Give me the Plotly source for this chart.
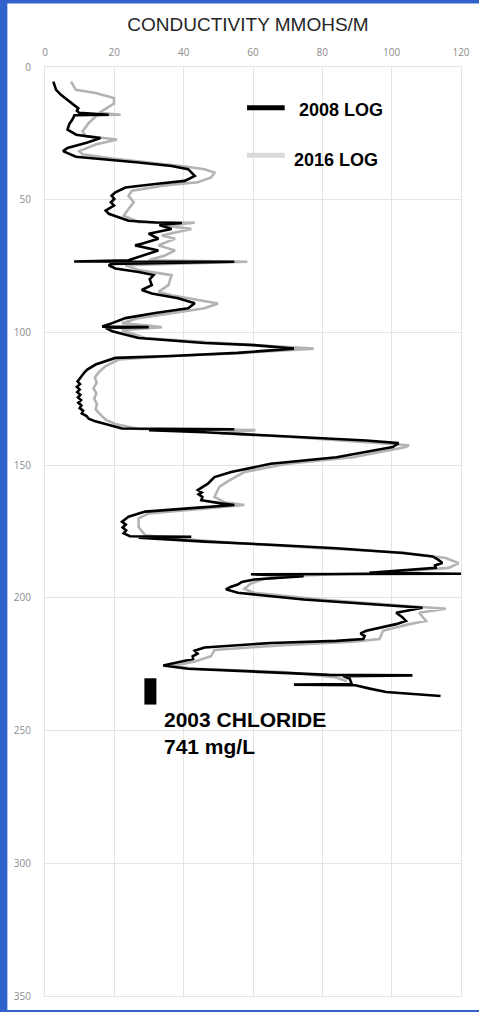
import plotly.graph_objects as go

# ---- 2008 conductivity log (depth, conductivity mmohs/m) ----
DEPTH_2008 = [5.5, 8.6, 10.5, 13.6, 14.8, 15.6, 16.5, 17.3, 18.0, 18.2, 19.8, 21.5, 23.6, 25.5, 26.8,
              28.5, 30.5, 31.7, 33.8, 34.8, 36.0, 37.3, 38.5, 41.0, 42.9, 44.1, 45.4, 47.2, 48.5,
              49.7, 51.0, 52.2, 53.2, 54.1, 55.3, 57.9, 58.6, 58.8, 59.5, 61.0, 62.8, 64.7, 66.6,
              67.2, 69.1, 70.3, 71.5, 72.8, 73.3, 73.4, 74.2, 74.7, 75.9, 77.2, 78.4, 80.0, 82.2,
              84.0, 85.3, 87.1, 89.0, 90.9, 92.7, 94.6, 96.5, 97.8, 98.0, 98.3, 99.6, 102.1, 104.0,
              104.8, 106.1, 107.7, 108.9, 109.6, 112.1, 113.0, 114.0, 115.0, 116.5, 117.5, 118.5,
              119.5, 120.5, 121.5, 122.5, 123.5, 124.5, 125.5, 126.5, 127.5, 128.5, 129.5, 130.5,
              131.5, 132.5, 133.5, 134.5, 136.2, 136.5, 136.8, 137.6, 138.9, 140.7, 141.7, 143.2,
              147.0, 149.5, 152.6, 154.5, 155.8, 157.0, 158.2, 159.4, 160.3, 161.0, 162.0, 163.2,
              164.4, 165.0, 166.3, 167.5, 169.4, 170.5, 171.3, 172.4, 173.5, 174.6, 175.7, 176.8,
              177.0, 177.3, 178.8, 180.0, 181.3, 183.1, 184.4, 185.6, 186.9, 187.8, 188.7, 190.6,
              190.9, 191.1, 191.8, 193.1, 194.0, 195.0, 195.9, 196.8, 198.1, 200.6, 202.4, 203.7,
              205.6, 207.2, 208.7, 209.9, 212.4, 213.4, 214.4, 215.5, 216.2, 217.0, 218.7, 219.9,
              221.0, 222.0, 223.0, 224.3, 225.5, 226.7, 228.0, 229.0, 229.2, 229.5, 230.5, 232.5,
              232.7, 232.9, 234.2, 235.5, 237.0]
COND_2008 = [2.4, 3.2, 4.6, 7.5, 8.9, 9.6, 9.2, 9.9, 18.4, 8.5, 7.9, 7.0, 6.5, 9.0, 16.0,
             12.0, 6.5, 5.2, 8.9, 17.5, 27.0, 36.5, 41.3, 43.2, 40.3, 31.8, 23.2, 20.3, 19.2,
             20.0, 19.0, 19.9, 18.6, 17.5, 18.4, 24.1, 32.0, 39.5, 33.0, 36.5, 29.9, 32.7, 27.9,
             26.0, 32.7, 29.9, 27.0, 24.1, 8.4, 54.6, 19.0, 18.4, 20.3, 27.0, 31.3, 30.2, 30.8,
             27.9, 30.8, 38.4, 43.2, 41.3, 31.8, 23.2, 19.4, 16.5, 29.9, 17.5, 19.4, 27.0, 46.0,
             60.3, 71.8, 55.6, 36.5, 20.3, 14.6, 13.5, 12.2, 11.4, 10.6, 10.0, 9.4,
             10.1, 9.2, 10.0, 9.3, 10.2, 9.5, 10.4, 9.6, 10.5, 10.0, 11.0, 10.6,
             12.0, 12.6, 14.5, 17.5, 22.2, 54.6, 30.0, 46.0, 65.1, 92.7, 102.0, 100.3,
             84.1, 65.1, 53.7, 48.9, 47.9, 47.0, 45.5, 44.1, 45.2, 44.3, 45.4, 45.1,
             50.8, 54.6, 41.3, 28.9, 24.1, 22.9, 22.2, 23.3, 22.4, 23.4, 22.7, 24.5,
             42.2, 27.0, 46.0, 65.1, 84.1, 103.2, 111.8, 113.4, 114.6, 112.5, 112.7, 93.6,
             120.0, 59.4, 74.6, 60.3, 56.8, 55.6, 53.5, 52.2, 55.6, 74.6, 93.7, 108.9,
             101.3, 103.0, 104.1, 101.3, 92.7, 91.0, 92.2, 91.8, 84.1, 65.1, 46.0, 43.2,
             44.0, 42.6, 42.7, 38.4, 34.1, 41.3, 65.1, 82.0, 106.0, 86.0, 87.9, 88.5,
             71.8, 89.5, 93.7, 98.4, 114.1]

# ---- 2016 conductivity log ----
DEPTH_2016 = [5.5, 8.6, 9.8, 11.7, 13.8, 15.4, 17.3, 18.0, 18.2, 21.0, 24.3, 26.0, 27.3, 29.2,
              31.7, 32.9, 34.5, 36.0, 37.3, 38.5, 39.8, 41.6, 43.4, 44.6, 46.6, 48.5, 51.0, 53.5,
              56.0, 58.5, 58.7, 59.8, 61.0, 63.5, 64.7, 67.2, 69.1, 71.0, 72.8, 73.4, 74.7, 76.5,
              78.4, 82.2, 84.7, 86.0, 87.9, 89.1, 90.9, 92.7, 94.6, 96.5, 98.0, 99.2, 102.1, 104.0,
              106.1, 107.7, 108.9, 110.2, 112.7, 115.0, 117.0, 119.0, 121.0, 123.0, 125.0, 127.0,
              129.0, 131.0, 133.0, 134.5, 136.4, 136.8, 138.0, 139.3, 142.5, 143.2, 147.0, 149.5,
              152.6, 156.1, 158.2, 160.0, 162.0, 164.0, 165.0, 166.7, 168.2, 170.0, 173.3, 176.4,
              177.5, 179.4, 181.3, 182.9, 185.0, 186.9, 188.7, 190.4, 191.6, 192.9, 194.6, 196.6,
              198.1, 200.6, 202.4, 204.1, 205.6, 208.7, 209.9, 212.4, 215.5, 216.5, 217.7, 219.6,
              222.0, 224.0, 225.8, 226.7, 228.0, 230.0, 231.4]
COND_2016 = [7.5, 8.9, 14.6, 19.9, 19.9, 17.9, 15.6, 21.8, 15.0, 12.7, 10.8, 11.8, 20.8, 14.6,
             9.9, 10.8, 19.4, 29.9, 39.4, 46.0, 48.9, 47.9, 44.1, 34.6, 25.1, 24.1, 25.6, 24.1,
             22.7, 27.0, 43.2, 34.6, 42.2, 33.7, 37.5, 32.7, 37.5, 34.6, 29.9, 58.4, 23.2, 27.0,
             36.5, 35.6, 32.7, 36.5, 44.1, 49.9, 46.0, 36.5, 27.0, 22.2, 33.7, 22.2, 28.9, 50.8,
             77.5, 57.5, 36.5, 21.3, 17.5, 15.5, 14.4, 14.9, 14.0, 14.8, 14.2, 15.0,
             14.6, 16.0, 17.6, 20.3, 27.0, 60.7, 50.8, 69.9, 105.0, 104.1, 88.9, 69.9,
             57.5, 52.7, 50.3, 49.6, 48.9, 51.8, 57.5, 43.2, 29.9, 27.0, 27.0, 28.9,
             36.5, 55.6, 79.4, 103.2, 115.6, 119.3, 116.5, 98.4, 74.6, 63.2, 59.4, 57.5,
             60.3, 79.4, 98.4, 115.6, 107.9, 109.9, 105.1, 97.5, 96.5, 88.9, 69.9, 48.9,
             47.9, 43.2, 36.5, 43.2, 69.9, 84.1, 87.0]

# ---- 2003 chloride sample interval ----
CHLORIDE_COND = [30.4, 30.4]
CHLORIDE_DEPTH = [230.3, 240.2]
CHLORIDE_LABEL = "2003 CHLORIDE<br>741 mg/L"

X_TICKS = [0, 20, 40, 60, 80, 100, 120]
Y_TICKS = [0, 50, 100, 150, 200, 250, 300, 350]

W, H = 479, 1012
ML, MR, MT, MB = 45, 14, 67, 9
PW, PH = W - ML - MR, H - MT - MB


def px_x(px):
    """pixel column -> paper x"""
    return (px - ML) / PW


def px_y(py):
    """pixel row -> paper y"""
    return (H - MB - py) / PH


fig = go.Figure()

fig.add_trace(go.Scatter(x=COND_2016, y=DEPTH_2016, mode="lines", name="2016 LOG",
                         line=dict(color="#b3b3b3", width=2.6), showlegend=False))
fig.add_trace(go.Scatter(x=COND_2008, y=DEPTH_2008, mode="lines", name="2008 LOG",
                         line=dict(color="#000000", width=2.6), showlegend=False))
fig.add_trace(go.Scatter(x=CHLORIDE_COND, y=CHLORIDE_DEPTH, mode="lines", name="2003 CHLORIDE",
                         line=dict(color="#000000", width=12), showlegend=False))

fig.add_annotation(x=CHLORIDE_COND[0] + 3.4, y=sum(CHLORIDE_DEPTH) / 2 + 15.5,
                   xref="x", yref="y", text="<b>" + CHLORIDE_LABEL + "</b>",
                   showarrow=False, xanchor="left", yanchor="middle", align="left",
                   font=dict(family="Liberation Sans, Arial, sans-serif", size=21, color="#000000"))

# legend: key lines and labels
shapes = [
    # white chart area inside the blue frame
    dict(type="rect", xref="paper", yref="paper", x0=px_x(7), x1=px_x(W + 5),
         y0=px_y(H + 5), y1=px_y(3), fillcolor="white", line=dict(width=0), layer="below"),
    dict(type="line", xref="paper", yref="paper", x0=px_x(249), x1=px_x(287),
         y0=px_y(108), y1=px_y(108), line=dict(color="#000000", width=5)),
    dict(type="line", xref="paper", yref="paper", x0=px_x(249), x1=px_x(287),
         y0=px_y(156), y1=px_y(156), line=dict(color="#d9d9d9", width=5)),
]
fig.update_layout(shapes=shapes)
fig.add_annotation(x=px_x(299), y=px_y(110), xref="paper", yref="paper", text="<b>2008 LOG</b>",
                   showarrow=False, xanchor="left", yanchor="middle",
                   font=dict(family="Liberation Sans, Arial, sans-serif", size=18, color="#000000"))
fig.add_annotation(x=px_x(294), y=px_y(161), xref="paper", yref="paper", text="<b>2016 LOG</b>",
                   showarrow=False, xanchor="left", yanchor="middle",
                   font=dict(family="Liberation Sans, Arial, sans-serif", size=18, color="#000000"))

tick_font = dict(family="Open Sans, sans-serif", size=10, color="#8c8c8c")
grid = "#e4e4e4"

fig.update_layout(
    width=W, height=H,
    margin=dict(l=ML, r=MR, t=MT, b=MB, pad=0),
    paper_bgcolor="#3162c9",
    plot_bgcolor="white",
    title=dict(text="CONDUCTIVITY MMOHS/M", xref="container", yref="container",
               x=248 / W, y=1 - 24 / H, xanchor="center", yanchor="middle",
               font=dict(family="Liberation Sans, Arial, sans-serif", size=19, color="#262626")),
    xaxis=dict(range=[0, 120], side="top", tickvals=X_TICKS, showgrid=True, gridcolor=grid,
               gridwidth=1, zeroline=False, showline=True, linecolor=grid, linewidth=1, mirror=True,
               ticks="", ticklabelstandoff=6, tickfont=tick_font, fixedrange=True),
    yaxis=dict(range=[350, 0], tickvals=Y_TICKS, showgrid=True, gridcolor=grid, gridwidth=1,
               zeroline=False, showline=True, linecolor=grid, linewidth=1, mirror=True,
               ticks="", ticklabelstandoff=11, tickfont=tick_font, fixedrange=True),
)

fig.write_html("out.html")
